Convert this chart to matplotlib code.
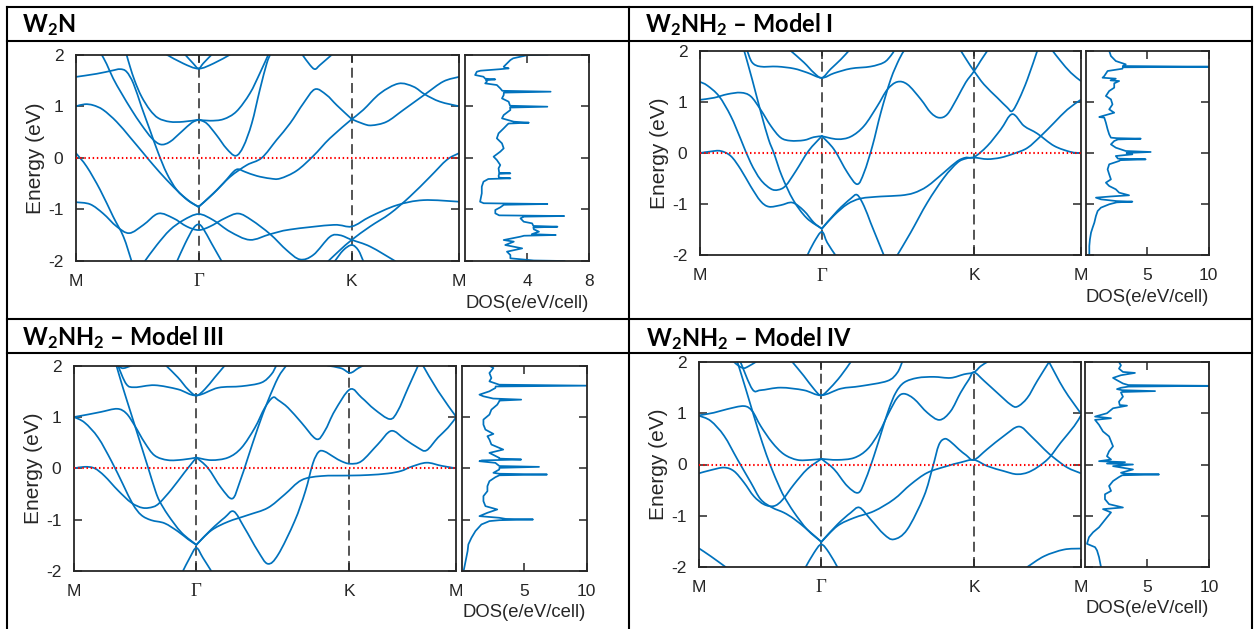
import matplotlib
matplotlib.use('Agg')
import matplotlib.pyplot as plt
from matplotlib.lines import Line2D
from matplotlib.path import Path
from matplotlib.patches import PathPatch

plt.rcParams['font.family'] = ['Liberation Sans', 'DejaVu Sans']
plt.rcParams['mathtext.fontset'] = 'custom'
plt.rcParams['mathtext.rm'] = 'Lato:bold'
plt.rcParams['mathtext.it'] = 'Lato:bold'
plt.rcParams['mathtext.bf'] = 'Lato:bold'
plt.rcParams['mathtext.default'] = 'rm'

# ---------------- data ----------------
KPATH_LABELS = ['M', 'Γ', 'K', 'M']
KPATH_POS = [0.0, 0.32, 0.72, 1.0]
E_TICKS = [-2, -1, 0, 1, 2]
E_TICK_LABELS = ['-2', '-1', '0', '1', '2']

TITLES = ['W$_2$N', 'W$_2$NH$_2$ – Model I', 'W$_2$NH$_2$ – Model III', 'W$_2$NH$_2$ – Model IV']
DOS_XMAX = [8, 10, 10, 10]
DOS_XTICKS = [[4, 8], [5, 10], [5, 10], [5, 10]]

# bands: (k along path M-Γ-K-M, energy eV)
W2N_BANDS = [
    ([0, 0.054, 0.093, 0.115, 0.132, 0.150, 0.171, 0.193, 0.215, 0.237, 0.263, 0.293, 0.32],
     [1.57, 1.63, 1.69, 1.72, 1.67, 1.44, 0.99, 0.54, 0.09, -0.30, -0.62, -0.83, -0.95]),
    ([0.067, 0.080, 0.097, 0.119, 0.145, 0.171, 0.198, 0.221, 0.245, 0.276, 0.302, 0.32],
     [2.0, 1.82, 1.54, 1.25, 0.93, 0.64, 0.38, 0.26, 0.31, 0.51, 0.68, 0.74]),
    ([0.132, 0.141, 0.154, 0.171, 0.193, 0.215, 0.245, 0.280, 0.32],
     [2.0, 1.77, 1.48, 1.19, 0.93, 0.77, 0.70, 0.70, 0.74]),
    ([0, 0.023, 0.045, 0.071, 0.106, 0.141, 0.176, 0.202, 0.237, 0.272, 0.298, 0.32],
     [1.0, 1.04, 1.02, 0.93, 0.70, 0.40, 0.09, -0.14, -0.43, -0.69, -0.85, -0.95]),
    ([0.237, 0.280, 0.32, 0.359, 0.402], [2.0, 1.83, 1.73, 1.83, 2.0]),
    ([0.285, 0.306, 0.32, 0.332, 0.354], [2.0, 1.83, 1.73, 1.83, 2.0]),
    ([0.32, 0.350, 0.385, 0.419, 0.454, 0.480, 0.502], [0.74, 0.72, 0.75, 0.90, 1.25, 1.64, 2.0]),
    ([0.32, 0.341, 0.367, 0.393, 0.417, 0.437, 0.459, 0.480, 0.498, 0.507],
     [0.74, 0.67, 0.44, 0.18, 0.04, 0.22, 0.67, 1.32, 1.83, 2.0]),
    ([0.591, 0.611, 0.624, 0.637, 0.668], [2.0, 1.80, 1.72, 1.80, 2.0]),
    ([0.32, 0.359, 0.402, 0.446, 0.485, 0.524, 0.559, 0.594, 0.624, 0.654, 0.681, 0.72],
     [-0.95, -0.69, -0.37, -0.14, 0.0, 0.35, 0.67, 1.06, 1.33, 1.22, 1.02, 0.75]),
    ([0.32, 0.350, 0.385, 0.411, 0.424, 0.441, 0.472, 0.507, 0.533, 0.576, 0.620, 0.663, 0.72],
     [-0.95, -0.75, -0.49, -0.27, -0.22, -0.27, -0.35, -0.40, -0.40, -0.25, 0.04, 0.38, 0.75]),
    ([0.72, 0.750, 0.794, 0.842, 0.881, 0.911, 0.950, 1.0], [0.75, 0.93, 1.25, 1.44, 1.38, 1.23, 1.09, 1.0]),
    ([0.72, 0.750, 0.772, 0.811, 0.855, 0.911, 0.959, 1.0], [0.75, 0.66, 0.63, 0.70, 0.93, 1.23, 1.48, 1.57]),
    ([0, 0.037, 0.071, 0.106, 0.139, 0.176, 0.215, 0.254, 0.289, 0.32, 0.350, 0.389, 0.424, 0.459,
      0.507, 0.550, 0.585, 0.620, 0.663, 0.689, 0.72, 0.768, 0.833],
     [-0.86, -0.90, -1.08, -1.33, -1.46, -1.30, -1.08, -1.17, -1.33, -1.40, -1.33, -1.17, -1.08, -1.21,
      -1.48, -1.79, -1.97, -1.88, -1.53, -1.50, -1.59, -1.72, -2.0]),
    ([0, 0.028, 0.063, 0.097, 0.124, 0.145], [0.09, -0.17, -0.62, -1.14, -1.53, -2.0]),
    ([0.180, 0.211, 0.245, 0.280, 0.32, 0.359, 0.402, 0.454, 0.507, 0.559, 0.672, 0.72, 0.768, 0.837, 0.907, 1.0],
     [-2.0, -1.69, -1.40, -1.21, -1.09, -1.21, -1.43, -1.59, -1.48, -1.39, -1.30, -1.33, -1.14, -0.92, -0.82, -0.85]),
    ([0.264, 0.285, 0.306, 0.32, 0.332, 0.354, 0.380], [-2.0, -1.66, -1.37, -1.29, -1.37, -1.66, -2.0]),
    ([0.659, 0.689, 0.72, 0.768, 0.820, 0.872, 0.924, 0.968, 1.0],
     [-2.0, -1.79, -1.59, -1.33, -1.08, -0.75, -0.37, -0.04, 0.09]),
    ([0.676, 0.698, 0.72, 0.737, 0.750], [-2.0, -1.79, -1.69, -1.79, -2.0]),
]

MODEL1_BANDS = [
    ([0.238, 0.273, 0.299, 0.32, 0.343, 0.370, 0.391], [2.0, 1.77, 1.57, 1.47, 1.64, 1.83, 2.0]),
    ([0.124, 0.137, 0.159, 0.203, 0.247, 0.282, 0.32, 0.352, 0.396, 0.448, 0.483, 0.501, 0.510],
     [2.0, 1.77, 1.69, 1.69, 1.65, 1.57, 1.47, 1.56, 1.65, 1.69, 1.77, 1.90, 2.0]),
    ([0, 0.037, 0.072, 0.107, 0.133, 0.159, 0.186, 0.212, 0.238, 0.273, 0.299, 0.32],
     [1.04, 1.08, 1.15, 1.18, 1.11, 0.85, 0.53, 0.30, 0.24, 0.25, 0.31, 0.33]),
    ([0, 0.019, 0.050, 0.081, 0.107, 0.133, 0.159, 0.186, 0.205, 0.225, 0.252, 0.285, 0.32],
     [1.39, 1.32, 1.11, 0.72, 0.27, -0.19, -0.52, -0.70, -0.72, -0.64, -0.35, 0.04, 0.33]),
    ([0, 0.028, 0.054, 0.081, 0.107, 0.133, 0.159, 0.181, 0.212, 0.243, 0.273, 0.299, 0.32],
     [0.0, 0.03, 0.04, -0.06, -0.32, -0.65, -0.94, -1.05, -1.02, -0.97, -1.13, -1.36, -1.48]),
    ([0.116, 0.137, 0.160, 0.180, 0.194, 0.215, 0.245, 0.280, 0.32],
     [2.0, 1.44, 0.79, 0.27, 0.0, -0.45, -0.92, -1.27, -1.48]),
    ([0.32, 0.352, 0.387, 0.413, 0.431, 0.453, 0.475, 0.501, 0.523, 0.536],
     [0.33, 0.07, -0.38, -0.61, -0.38, 0.14, 0.79, 1.44, 1.83, 2.0]),
    ([0.32, 0.361, 0.396, 0.431, 0.466, 0.492, 0.518, 0.545, 0.580, 0.606, 0.628, 0.650, 0.676, 0.698, 0.72, 0.737, 0.755],
     [0.33, 0.27, 0.32, 0.53, 0.92, 1.24, 1.39, 1.34, 1.05, 0.79, 0.69, 0.76, 1.08, 1.38, 1.60, 1.80, 2.0]),
    ([0.685, 0.702, 0.72, 0.746, 0.781, 0.807, 0.820, 0.838, 0.860, 0.886],
     [2.0, 1.80, 1.60, 1.34, 1.08, 0.89, 0.82, 1.05, 1.44, 2.0]),
    ([0.926, 0.947, 0.974, 1.0], [2.0, 1.80, 1.57, 1.41]),
    ([0.32, 0.352, 0.387, 0.422, 0.475, 0.527, 0.562, 0.597, 0.641, 0.676, 0.698, 0.72, 0.755, 0.790, 0.820,
      0.851, 0.886, 0.930, 0.974, 1.0],
     [-1.48, -1.22, -1.00, -0.89, -0.85, -0.83, -0.78, -0.65, -0.38, -0.16, -0.09, -0.08, 0.14, 0.46, 0.76,
      0.53, 0.38, 0.14, 0.02, 0.0]),
    ([0.518, 0.553, 0.597, 0.641, 0.676, 0.698, 0.72, 0.755, 0.790, 0.825, 0.860, 0.895, 0.930, 0.965, 1.0],
     [-2.0, -1.56, -0.97, -0.48, -0.19, -0.11, -0.09, -0.12, -0.09, -0.01, 0.10, 0.33, 0.59, 0.85, 1.04]),
    ([0.32, 0.361, 0.396, 0.413, 0.431, 0.448, 0.466, 0.483], [-1.48, -1.13, -0.89, -0.82, -1.04, -1.36, -1.69, -2.0]),
    ([0.282, 0.299, 0.32, 0.334, 0.356], [-2.0, -1.75, -1.54, -1.75, -2.0]),
]

MODEL3_BANDS = [
    ([0, 0.037, 0.071, 0.113, 0.137, 0.159, 0.185, 0.211, 0.246, 0.285, 0.32],
     [1.0, 1.05, 1.10, 1.16, 1.07, 0.83, 0.50, 0.25, 0.16, 0.17, 0.21]),
    ([0, 0.028, 0.063, 0.098, 0.128, 0.154, 0.176, 0.202, 0.237, 0.272, 0.298, 0.32],
     [1.0, 0.89, 0.60, 0.14, -0.31, -0.70, -0.91, -1.01, -1.07, -1.23, -1.38, -1.49]),
    ([0, 0.028, 0.054, 0.080, 0.115, 0.150, 0.180, 0.207, 0.224, 0.255, 0.289, 0.32],
     [0.0, 0.03, 0.0, -0.15, -0.43, -0.67, -0.77, -0.75, -0.67, -0.41, -0.08, 0.21]),
    ([0.111, 0.128, 0.150, 0.172, 0.194, 0.213, 0.224, 0.246, 0.281, 0.32],
     [2.0, 1.57, 1.05, 0.53, 0.01, -0.44, -0.64, -0.91, -1.25, -1.49]),
    ([0.241, 0.272, 0.298, 0.32, 0.342, 0.368, 0.394], [2.0, 1.77, 1.54, 1.42, 1.54, 1.77, 2.0]),
    ([0.115, 0.137, 0.159, 0.211, 0.272, 0.32, 0.377, 0.438, 0.490, 0.516, 0.529],
     [2.0, 1.64, 1.58, 1.62, 1.54, 1.42, 1.57, 1.60, 1.67, 1.83, 2.0]),
    ([0.115, 0.128, 0.150], [2.0, 1.95, 2.0]),
    ([0.32, 0.359, 0.403, 0.438, 0.473, 0.499, 0.520, 0.534, 0.560, 0.595, 0.634, 0.656, 0.682, 0.722, 0.752,
      0.786, 0.826, 0.847, 0.874, 0.900],
     [0.21, 0.16, 0.21, 0.40, 0.79, 1.18, 1.38, 1.33, 1.18, 0.89, 0.57, 0.73, 1.12, 1.54, 1.38,
      1.15, 0.96, 1.12, 1.57, 2.0]),
    ([0.32, 0.350, 0.385, 0.414, 0.433, 0.455, 0.481, 0.507, 0.534, 0.555],
     [0.21, 0.01, -0.38, -0.59, -0.28, 0.21, 0.79, 1.31, 1.77, 2.0]),
    ([0.32, 0.359, 0.394, 0.418, 0.446, 0.481, 0.507, 0.534, 0.577, 0.605, 0.625, 0.640, 0.655, 0.680, 0.699,
      0.722, 0.752, 0.795, 0.830, 0.865, 0.900, 0.922, 0.952, 0.978, 1.0],
     [-1.49, -1.19, -0.96, -0.84, -1.16, -1.61, -1.86, -1.68, -1.03, -0.45, 0.10, 0.32, 0.33, 0.22, 0.14,
      0.09, 0.14, 0.47, 0.73, 0.57, 0.40, 0.35, 0.60, 0.79, 1.0]),
    ([0.32, 0.359, 0.403, 0.455, 0.507, 0.551, 0.595, 0.647, 0.722, 0.769, 0.821, 0.856, 0.882, 0.922, 0.961, 1.0],
     [-1.49, -1.21, -1.04, -0.91, -0.77, -0.51, -0.23, -0.15, -0.14, -0.13, -0.10, -0.05, 0.03, 0.11, 0.05, 0.0]),
    ([0.285, 0.303, 0.32, 0.337, 0.359], [-2.0, -1.74, -1.55, -1.74, -2.0]),
    ([0.664, 0.699, 0.722, 0.743, 0.756], [2.0, 1.95, 1.86, 1.95, 2.0]),
    ([0.913, 0.952, 1.0], [2.0, 1.51, 1.0]),
]

MODEL4_BANDS = [
    ([0, 0.038, 0.073, 0.117, 0.139, 0.161, 0.191, 0.222, 0.257, 0.292, 0.32],
     [0.96, 1.01, 1.08, 1.14, 1.04, 0.75, 0.43, 0.20, 0.09, 0.09, 0.11]),
    ([0, 0.030, 0.065, 0.100, 0.135, 0.161, 0.191, 0.222, 0.248, 0.283, 0.32],
     [0.95, 0.85, 0.56, 0.10, -0.35, -0.68, -0.84, -0.94, -1.06, -1.27, -1.51]),
    ([0, 0.030, 0.065, 0.091, 0.117, 0.143, 0.170, 0.196, 0.218, 0.248, 0.283, 0.32],
     [-0.17, -0.11, -0.06, -0.13, -0.35, -0.62, -0.78, -0.81, -0.69, -0.39, -0.09, 0.11]),
    ([0.100, 0.122, 0.143, 0.165, 0.187, 0.209, 0.222, 0.248, 0.283, 0.32],
     [2.0, 1.47, 0.95, 0.43, -0.03, -0.42, -0.62, -0.93, -1.27, -1.51]),
    ([0.091, 0.104, 0.117, 0.130, 0.148], [2.0, 1.92, 1.88, 1.92, 2.0]),
    ([0.244, 0.274, 0.301, 0.32, 0.344, 0.371, 0.397], [2.0, 1.73, 1.47, 1.35, 1.50, 1.73, 2.0]),
    ([0.108, 0.139, 0.161, 0.213, 0.274, 0.32, 0.371, 0.423, 0.493, 0.519, 0.532],
     [2.0, 1.47, 1.45, 1.50, 1.45, 1.35, 1.48, 1.53, 1.63, 1.79, 2.0]),
    ([0.32, 0.362, 0.406, 0.441, 0.471, 0.497, 0.519, 0.537, 0.563, 0.598, 0.630, 0.659, 0.685, 0.707, 0.72,
      0.747, 0.781, 0.816, 0.834, 0.860, 0.886, 0.917],
     [0.11, 0.09, 0.13, 0.30, 0.62, 1.01, 1.30, 1.38, 1.28, 1.01, 0.87, 1.04, 1.40, 1.66, 1.80,
      1.63, 1.40, 1.17, 1.13, 1.30, 1.63, 2.0]),
    ([0.32, 0.353, 0.388, 0.417, 0.436, 0.458, 0.480, 0.497, 0.515, 0.537, 0.572, 0.615, 0.659, 0.694, 0.72,
      0.738, 0.755],
     [0.11, -0.09, -0.42, -0.55, -0.29, 0.17, 0.69, 1.08, 1.40, 1.60, 1.69, 1.71, 1.69, 1.76, 1.80,
      1.92, 2.0]),
    ([0.32, 0.362, 0.397, 0.420, 0.449, 0.484, 0.510, 0.545, 0.589, 0.612, 0.628, 0.643, 0.658, 0.680, 0.700,
      0.72, 0.755, 0.799, 0.838, 0.869, 0.904, 0.930, 0.965, 1.0],
     [-1.51, -1.17, -0.94, -0.84, -1.07, -1.36, -1.46, -1.27, -0.62, -0.05, 0.38, 0.50, 0.45, 0.30, 0.18,
      0.09, 0.30, 0.56, 0.74, 0.56, 0.30, 0.13, -0.06, -0.17]),
    ([0.32, 0.362, 0.406, 0.458, 0.510, 0.554, 0.598, 0.650, 0.685, 0.72, 0.755, 0.799, 0.834, 0.869, 0.913,
      0.948, 0.983, 1.0],
     [-1.51, -1.20, -1.04, -0.91, -0.68, -0.39, -0.16, -0.03, 0.04, 0.09, -0.03, -0.13, -0.19, -0.13, 0.10,
      0.43, 0.75, 0.95]),
    ([0.279, 0.301, 0.32, 0.340, 0.362], [-2.0, -1.72, -1.56, -1.72, -2.0]),
    ([0, 0.030, 0.069], [-1.64, -1.79, -2.0]),
    ([0.860, 0.904, 0.956, 1.0], [-2.0, -1.79, -1.66, -1.64]),
    ([0.917, 0.956, 1.0], [2.0, 1.47, 1.0]),
]

# DOS curves: energy (eV) and DOS (e/eV/cell)
W2N_DOS_E = [2.00, 1.99, 1.93, 1.896, 1.80, 1.767, 1.745, 1.735, 1.72, 1.69, 1.670, 1.606, 1.573, 1.535, 1.521,
             1.505, 1.477, 1.444, 1.412, 1.347, 1.30, 1.283, 1.265, 1.218, 1.153, 1.089, 1.01, 0.992, 0.975,
             0.928, 0.830, 0.766, 0.701, 0.682, 0.665, 0.637, 0.572, 0.475, 0.378, 0.281, 0.184, 0.120, 0.023,
             -0.042, -0.139, -0.203, -0.29, -0.300, -0.31, -0.352, -0.385, -0.397, -0.41, -0.462, -0.559,
             -0.688, -0.850, -0.88, -0.895, -0.91, -0.960, -1.011, -1.076, -1.115, -1.128, -1.14, -1.173,
             -1.238, -1.270, -1.32, -1.335, -1.35, -1.386, -1.431, -1.48, -1.496, -1.51, -1.528, -1.593,
             -1.625, -1.690, -1.755, -1.819, -1.884, -1.948, -1.99, -2.0]
W2N_DOS = [5.3, 4.0, 3.1, 2.92, 2.6, 2.49, 2.6, 2.81, 2.3, 1.0, 0.76, 0.65, 1.19, 1.3, 1.95,
           1.35, 1.41, 1.30, 2.05, 2.27, 2.4, 5.51, 2.5, 2.49, 2.38, 2.81, 2.9, 5.30, 2.9,
           2.92, 2.49, 2.38, 3.14, 4.11, 2.8, 2.70, 2.49, 2.16, 2.05, 2.38, 2.49, 2.27, 1.84,
           2.05, 2.27, 2.16, 2.2, 2.92, 2.2, 2.16, 2.2, 2.92, 1.5, 1.19, 1.08,
           1.08, 0.97, 1.2, 5.30, 2.5, 2.27, 1.95, 1.95, 2.2, 6.38, 3.8, 3.57,
           3.78, 4.32, 4.4, 5.95, 4.4, 4.43, 4.76, 4.3, 5.84, 3.8, 3.57, 2.49,
           3.14, 2.59, 3.68, 2.70, 2.92, 2.92, 4.43, 6.4]

MODEL1_DOS_E = [2.0, 1.896, 1.798, 1.733, 1.70, 1.687, 1.675, 1.648, 1.603, 1.505, 1.472, 1.453, 1.42, 1.407,
                1.362, 1.277, 1.212, 1.114, 1.049, 0.951, 0.853, 0.788, 0.72, 0.704, 0.691, 0.593, 0.463,
                0.365, 0.300, 0.29, 0.280, 0.265, 0.235, 0.169, 0.104, 0.039, 0.020, 0.0, -0.026, -0.059,
                -0.11, -0.124, -0.14, -0.156, -0.221, -0.319, -0.417, -0.515, -0.580, -0.645, -0.710, -0.775,
                -0.827, -0.85, -0.873, -0.906, -0.94, -0.951, -0.965, -1.003, -1.068, -1.134, -1.231, -1.362,
                -1.459, -1.557, -1.687, -1.818, -2.0]
MODEL1_DOS = [1.89, 2.03, 2.43, 3.24, 3.0, 10.0, 3.0, 2.97, 1.76, 1.49, 1.35, 2.43, 2.0, 2.70,
              2.30, 2.30, 1.89, 1.62, 2.03, 2.16, 1.89, 2.30, 1.3, 1.08, 1.49, 1.62, 1.76,
              1.89, 2.03, 2.5, 4.46, 2.6, 2.30, 2.03, 2.43, 3.24, 5.27, 3.3, 3.78, 2.43,
              2.6, 4.86, 2.8, 2.70, 1.89, 1.76, 1.89, 2.03, 1.62, 1.89, 2.43, 2.70,
              3.51, 2.0, 0.81, 1.22, 2.5, 3.78, 2.5, 1.89, 1.22, 0.95, 0.81, 0.68,
              0.54, 0.41, 0.32, 0.27, 0.27]

MODEL3_DOS_E = [2.0, 1.955, 1.857, 1.760, 1.695, 1.630, 1.611, 1.595, 1.566, 1.501, 1.436, 1.404, 1.36, 1.339,
                1.32, 1.306, 1.241, 1.144, 1.047, 0.950, 0.852, 0.755, 0.671, 0.626, 0.561, 0.464, 0.366,
                0.301, 0.204, 0.19, 0.172, 0.155, 0.139, 0.107, 0.045, 0.029, 0.01, -0.023, -0.087, -0.105,
                -0.120, -0.135, -0.172, -0.250, -0.347, -0.444, -0.541, -0.639, -0.736, -0.801, -0.866,
                -0.931, -0.963, -0.985, -0.996, -1.01, -1.028, -1.093, -1.222, -1.352, -1.482, -1.611,
                -1.806, -2.0]
MODEL3_DOS = [2.2, 2.52, 2.2, 2.36, 2.2, 2.99, 10.0, 2.7, 2.68, 2.2, 1.40, 1.72, 2.5, 4.75,
              3.0, 2.99, 2.83, 2.36, 2.2, 1.72, 1.72, 1.88, 2.52, 2.04, 2.2, 2.36, 3.31,
              2.2, 2.99, 3.0, 4.75, 1.6, 1.40, 2.68, 3.0, 6.18, 3.0, 2.99, 2.52, 3.0,
              6.82, 3.0, 2.68, 2.2, 2.04, 2.04, 1.72, 1.72, 1.88, 2.83, 2.04,
              1.40, 2.99, 3.5, 5.70, 3.0, 2.2, 1.56, 1.08, 0.76, 0.51, 0.45,
              0.29, 0.13]

MODEL4_DOS_E = [2.0, 1.935, 1.871, 1.806, 1.787, 1.742, 1.690, 1.645, 1.581, 1.55, 1.535, 1.52, 1.497, 1.471,
                1.45, 1.432, 1.415, 1.406, 1.323, 1.226, 1.16, 1.148, 1.097, 1.0, 0.935, 0.903, 0.871, 0.774,
                0.645, 0.548, 0.452, 0.355, 0.258, 0.161, 0.097, 0.065, 0.045, 0.019, 0.0, -0.032, -0.097,
                -0.161, -0.18, -0.194, -0.21, -0.245, -0.323, -0.419, -0.516, -0.581, -0.677, -0.774, -0.839,
                -0.871, -0.935, -1.032, -1.129, -1.226, -1.323, -1.419, -1.548, -1.613, -1.677, -1.806, -2.0]
MODEL4_DOS = [2.74, 2.90, 2.74, 3.06, 4.03, 2.90, 2.26, 2.58, 3.06, 3.5, 10.0, 3.5, 2.90, 2.58,
              3.0, 5.65, 3.0, 2.90, 3.06, 2.74, 2.8, 3.39, 2.26, 1.77, 0.81, 2.10, 0.81, 1.13,
              1.45, 1.94, 2.10, 2.26, 1.94, 1.77, 2.10, 1.13, 3.23, 1.77, 3.87, 2.26, 3.87,
              2.90, 3.2, 5.97, 3.0, 2.74, 2.26, 1.94, 2.10, 1.61, 1.61, 1.94, 3.06,
              1.45, 2.10, 1.77, 1.45, 1.13, 0.65, 0.32, 0.16, 0.81, 0.97, 1.13, 1.29]

# ---------------- layout (pixels in a 1254x629 canvas) ----------------
W, H = 1254, 629
BAND_BOX = [(76, 54.7, 459, 261), (700, 50.7, 1080.7, 255.3),
            (74, 365.7, 456.3, 571), (699.3, 362, 1080.7, 567)]
DOS_BOX = [(465, 54.7, 589.3, 261), (1086, 50.7, 1208.7, 255.3),
           (462, 365.7, 586.6, 571), (1085, 362, 1209, 567)]
TITLE_POS = [(22, 32), (645, 32.5), (22, 345.5), (646, 346)]

BLUE = '#0072BD'
AXC = '#262626'


def rect(box):
    x0, y0, x1, y1 = box
    return [x0 / W, 1 - y1 / H, (x1 - x0) / W, (y1 - y0) / H]


def smooth(k, e):
    pts = list(zip(k, e))
    n = len(pts)
    verts = [pts[0]]
    codes = [Path.MOVETO]
    for i in range(n - 1):
        p0 = pts[i - 1] if i > 0 else pts[i]
        p1 = pts[i]
        p2 = pts[i + 1]
        p3 = pts[i + 2] if i + 2 < n else pts[i + 1]
        c1 = (p1[0] + (p2[0] - p0[0]) / 6, p1[1] + (p2[1] - p0[1]) / 6)
        c2 = (p2[0] - (p3[0] - p1[0]) / 6, p2[1] - (p3[1] - p1[1]) / 6)
        verts += [c1, c2, p2]
        codes += [Path.CURVE4] * 3
    return Path(verts, codes)


def style_axes(ax):
    for s in ax.spines.values():
        s.set_color(AXC)
        s.set_linewidth(1.3)
    ax.tick_params(direction='in', length=6, width=1.1, top=True, right=True,
                   labelsize=12.5, pad=9, colors=AXC)


fig = plt.figure(figsize=(W / 100, H / 100), dpi=100)


def hline(y, x0=7, x1=1252):
    fig.add_artist(Line2D([x0 / W, x1 / W], [1 - y / H, 1 - y / H], color='black', lw=1.5))


def vline(x, y0=7, y1=629):
    fig.add_artist(Line2D([x / W, x / W], [1 - y0 / H, 1 - y1 / H], color='black', lw=1.5))


for y in (7, 41, 319, 353):
    hline(y)
for x in (7, 629.5, 1252):
    vline(x)

ALL_BANDS = [W2N_BANDS, MODEL1_BANDS, MODEL3_BANDS, MODEL4_BANDS]
ALL_DOS = [(W2N_DOS, W2N_DOS_E), (MODEL1_DOS, MODEL1_DOS_E), (MODEL3_DOS, MODEL3_DOS_E), (MODEL4_DOS, MODEL4_DOS_E)]

for i in range(4):
    tx, ty = TITLE_POS[i]
    fig.text(tx / W, 1 - ty / H, TITLES[i], fontfamily='Lato', fontweight='bold',
             fontsize=17, ha='left', va='baseline')

    ax = fig.add_axes(rect(BAND_BOX[i]))
    for k, e in ALL_BANDS[i]:
        ax.add_patch(PathPatch(smooth(k, e), facecolor='none', edgecolor=BLUE, lw=1.25,
                               zorder=2, capstyle='round', joinstyle='round'))
    for xv in KPATH_POS[1:3]:
        ax.axvline(xv, color=AXC, lw=1.1, ls=(0, (6.5, 3.5)), zorder=1)
    ax.axhline(0, color='#FF0000', lw=1.5, ls=(0, (0.7, 1.3)), zorder=3)
    ax.set_xlim(0, 1)
    ax.set_ylim(-2, 2)
    ax.set_xticks(KPATH_POS)
    ax.set_xticklabels(KPATH_LABELS)
    ax.set_yticks(E_TICKS)
    ax.set_yticklabels(E_TICK_LABELS)
    style_axes(ax)
    ax.get_xticklabels()[1].set_fontfamily('Liberation Serif')
    ax.get_xticklabels()[1].set_fontsize(13.5)
    ax.text(-0.107, 0.5, 'Energy (eV)', transform=ax.transAxes, rotation=90,
            ha='center', va='center', fontsize=15, color=AXC)

    dx = fig.add_axes(rect(DOS_BOX[i]))
    dvals, evals = ALL_DOS[i]
    dx.plot(dvals, evals, color=BLUE, lw=1.25)
    dx.set_xlim(0, DOS_XMAX[i])
    dx.set_ylim(-2, 2)
    dx.set_xticks(DOS_XTICKS[i])
    dx.set_xticklabels([str(t) for t in DOS_XTICKS[i]])
    dx.set_yticks(E_TICKS)
    dx.set_yticklabels([])
    style_axes(dx)
    dx.text(0.5, -0.204, 'DOS(e/eV/cell)', transform=dx.transAxes, ha='center', va='center',
            fontsize=13.3, color=AXC)

fig.savefig('out.png', dpi=100)
